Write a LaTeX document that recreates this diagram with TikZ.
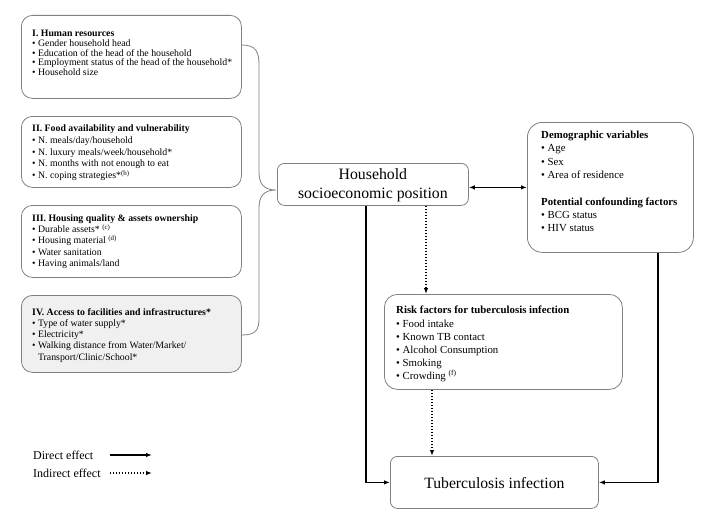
\documentclass[tikz,border=0pt]{standalone}
\usepackage{fontspec}
\setmainfont{Liberation Serif}
\usetikzlibrary{arrows.meta}
\tikzset{
  gbox/.style={draw=black!50, line width=0.8pt, inner sep=0pt, anchor=north west},
  txt/.style={inner sep=0pt, anchor=north west, align=left},
  conn/.style={line width=1.3pt, -{Latex[length=6pt,width=4.5pt]}},
  dotconn/.style={conn, dash pattern=on 1.4pt off 1.6pt},
  bracep/.style={draw=black!50, line width=0.8pt}
}
\newcommand{\bl}{\textbullet\ }
\begin{document}
\begin{tikzpicture}[x=1pt,y=-1pt]
\useasboundingbox (0,0) rectangle (703,519);
% left boxes
\node[gbox, rounded corners=11pt, minimum width=220pt, minimum height=83pt] (hr) at (21,15) {};
\node[txt, font={\fontsize{9.8}{9.7}\selectfont}] (hrt) at (32,30.2) {\textbf{I. Human resources}\\
\bl Gender household head\\
\bl Education of the head of the household\\
\bl Employment status of the head of the household*\\
\bl Household size};

\node[gbox, rounded corners=11pt, minimum width=220pt, minimum height=71pt] (fa) at (21,116) {};
\node[txt, font={\fontsize{9.8}{11.8}\selectfont}] (fat) at (32,124.5) {\textbf{II. Food availability and vulnerability}\\
\bl N. meals/day/household\\
\bl N. luxury meals/week/household*\\
\bl N. months with not enough to eat\\
\bl N. coping strategies*\textsuperscript{(b)}};

\node[gbox, rounded corners=11pt, minimum width=220pt, minimum height=72pt] (hq) at (21,205) {};
\node[txt, font={\fontsize{9.8}{11.2}\selectfont}] (hqt) at (32,214.5) {\textbf{III. Housing quality \& assets ownership}\\
\bl Durable assets* \textsuperscript{(c)}\\
\bl Housing material \textsuperscript{(d)}\\
\bl Water sanitation\\
\bl Having animals/land};

\node[gbox, rounded corners=11pt, fill=black!6, minimum width=220pt, minimum height=77pt] (af) at (21,295) {};
\node[txt, font={\fontsize{9.8}{11.25}\selectfont}] (aft) at (32,308) {\textbf{IV. Access to facilities and infrastructures*}\\
\bl Type of water supply*\\
\bl Electricity*\\
\bl Walking distance from Water/Market/\\
\phantom{\bl}Transport/Clinic/School*};

% household
\node[gbox, rounded corners=7pt, minimum width=191pt, minimum height=42pt] (hs) at (277,163) {};
\node[align=center, inner sep=0pt, font={\fontsize{15.8}{19.3}\selectfont}] (hst) at ([yshift=-1pt]hs.center) {Household\\socioeconomic position};

% demographic
\node[gbox, rounded corners=15pt, minimum width=166pt, minimum height=130pt] (demo) at (527,122) {};
\node[txt, font={\fontsize{10.8}{13.3}\selectfont}] (demot) at (541,131) {\textbf{Demographic variables}\\
\bl Age\\
\bl Sex\\
\bl Area of residence\\
~\\
\textbf{Potential confounding factors}\\
\bl BCG status\\
\bl HIV status};

% risk
\node[gbox, rounded corners=13pt, minimum width=238pt, minimum height=95pt] (risk) at (384,294) {};
\node[txt, font={\fontsize{10.8}{13.2}\selectfont}] (riskt) at (396,306) {\textbf{Risk factors for tuberculosis infection}\\
\bl Food intake\\
\bl Known TB contact\\
\bl Alcohol Consumption\\
\bl Smoking\\
\bl Crowding \textsuperscript{(f)}};

% TB
\node[gbox, rounded corners=7pt, minimum width=208pt, minimum height=52pt] (tb) at (390,456) {};
\node[inner sep=0pt, font={\fontsize{15.7}{19}\selectfont}] (tbt) at ([yshift=-1pt]tb.center) {Tuberculosis infection};

% brace
\coordinate (btip) at (276,190);
\draw[bracep] (hr.east |- 0,45) .. controls (256,45) and (259,52) .. (259,65) -- (259,172)
  .. controls (259,184) and (264,190) .. (btip)
  .. controls (264,190) and (259,196) .. (259,208) -- (259,318)
  .. controls (259,330) and (256,335) .. (af.east |- 0,335);

% connectors
\draw[conn, {Latex[length=6pt,width=4.5pt]}-{Latex[length=6pt,width=4.5pt]}] (hs.east |- demo.west) -- (demo.west);
\coordinate (c1) at (366,0);
\draw[conn] (hs.south -| c1) |- (tb.west);
\coordinate (c2) at (658,0);
\draw[conn] (demo.south -| c2) |- (tb.east);
\coordinate (d1) at (426,0);
\draw[dotconn] (hs.south -| d1) -- (risk.north -| d1);
\coordinate (d2) at (432,0);
\draw[dotconn] (risk.south -| d2) -- (tb.north -| d2);

% legend
\node[inner sep=0pt, anchor=base west, font={\fontsize{12}{14}\selectfont}] (ld) at (33,459) {Direct effect};
\node[inner sep=0pt, anchor=base west, font={\fontsize{12}{14}\selectfont}] (li) at (33,477) {Indirect effect};
\coordinate (l1s) at (110,455);
\coordinate (l1e) at (152,455);
\coordinate (l2s) at (110,473);
\coordinate (l2e) at (152,473);
\draw[conn] (l1s) -- (l1e);
\draw[dotconn] (l2s) -- (l2e);
\end{tikzpicture}
\end{document}
